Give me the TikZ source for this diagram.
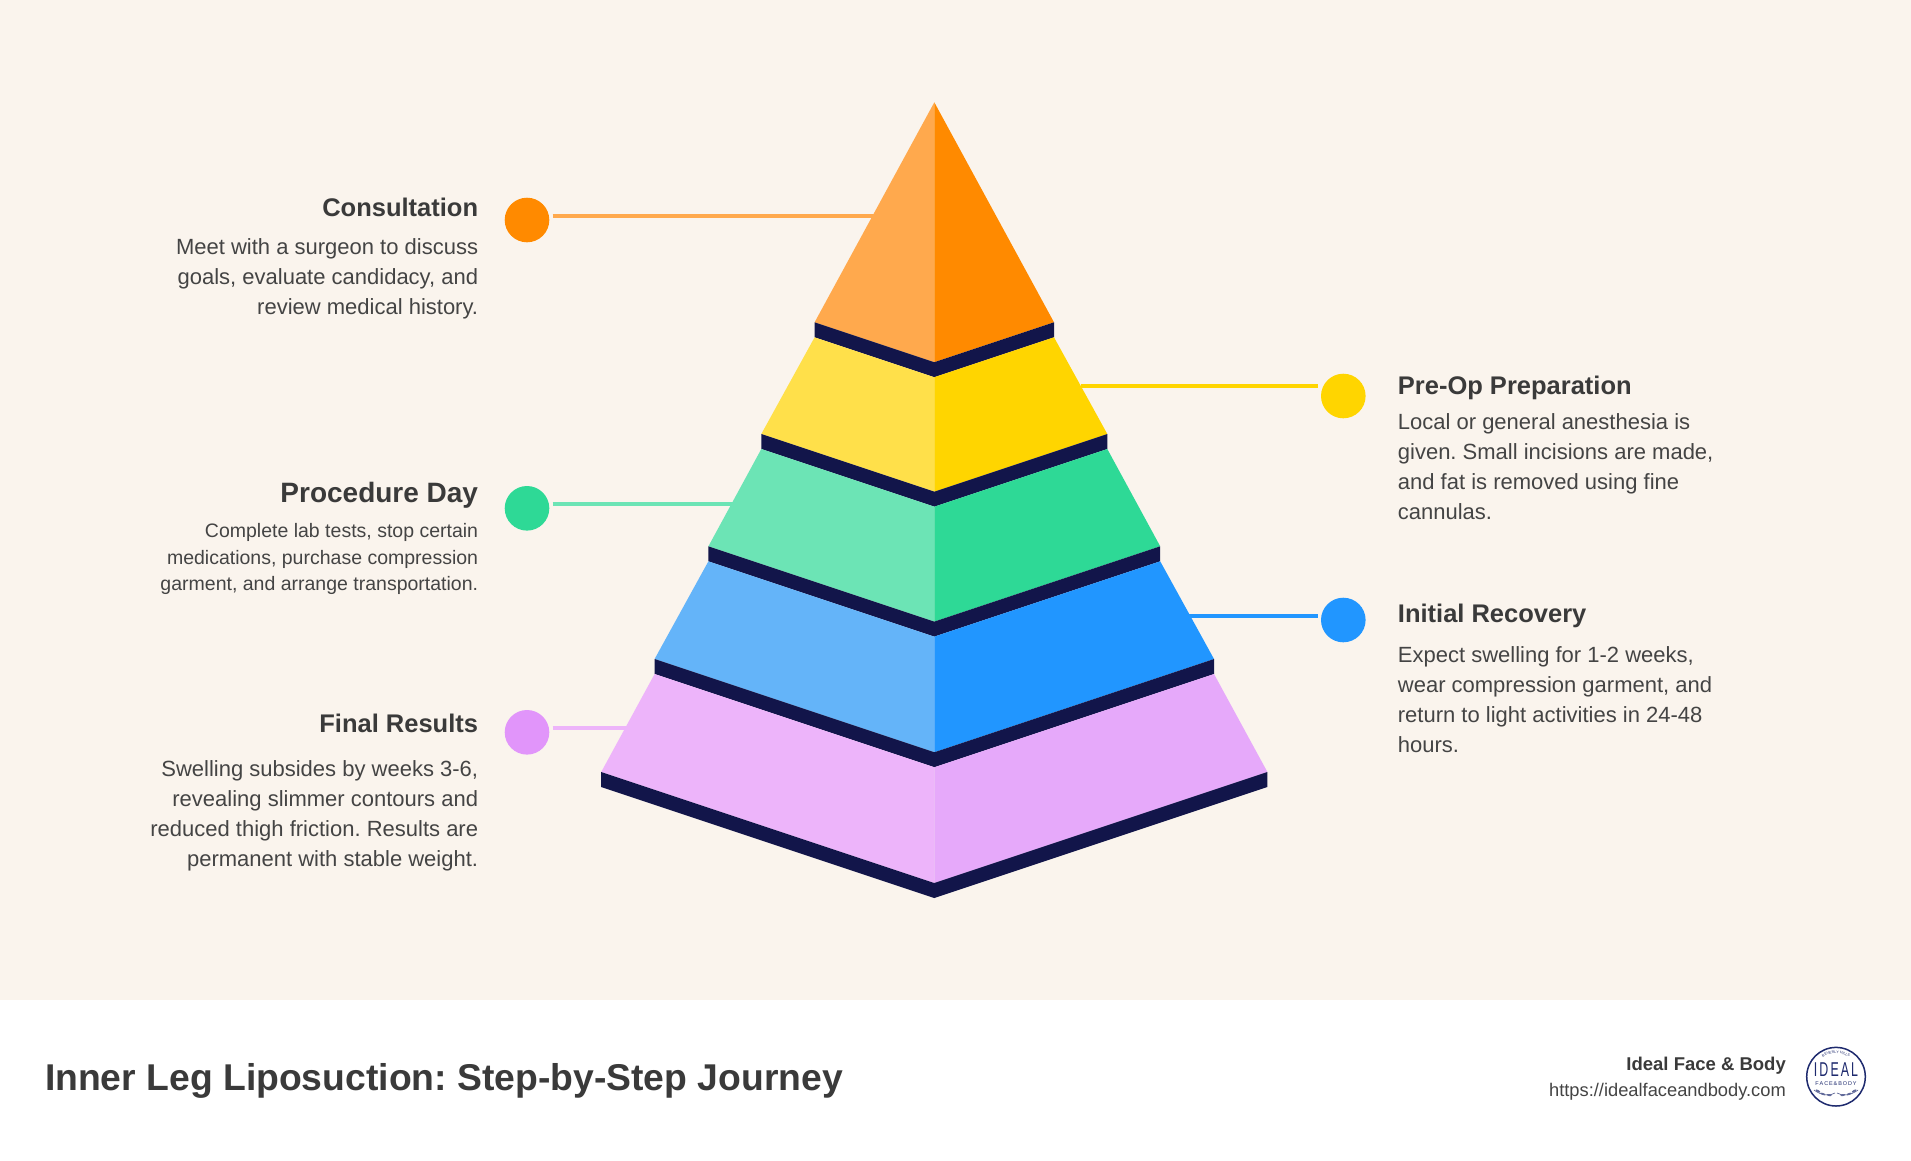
\documentclass[tikz,border=0pt]{standalone}
\usepackage{fontspec}
\setmainfont{Liberation Sans}
\usepackage{graphicx}
\usetikzlibrary{decorations.text}
\frenchspacing

\definecolor{bgcream}{HTML}{FAF4ED}
\definecolor{inkgray}{HTML}{3A3A3A}
\definecolor{descgray}{HTML}{444444}
\definecolor{bandnavy}{HTML}{12154A}
\definecolor{orangeL}{HTML}{FFA94D}
\definecolor{orangeR}{HTML}{FF8A00}
\definecolor{yellowL}{HTML}{FFE04A}
\definecolor{yellowR}{HTML}{FFD500}
\definecolor{greenL}{HTML}{6CE4B5}
\definecolor{greenR}{HTML}{2ED996}
\definecolor{blueL}{HTML}{64B4F9}
\definecolor{blueR}{HTML}{2196FF}
\definecolor{pinkL}{HTML}{EDB4FA}
\definecolor{pinkR}{HTML}{E6A9FA}
\definecolor{pinkdot}{HTML}{E195FA}
\definecolor{logonavy}{HTML}{1E2A6E}

% one layer of the pyramid: (top y:bottom y:top half width:bottom half width)[left][right]
\def\pyrlayer(#1:#2:#3:#4)[#5][#6]{%
  \fill[#5] (934.3-#3,#1) -- (934.3,#1+#3/3) -- (934.3,#2+#4/3) -- (934.3-#4,#2) -- cycle;
  \fill[#6] (934.3+#3,#1) -- (934.3,#1+#3/3) -- (934.3,#2+#4/3) -- (934.3+#4,#2) -- cycle;}
% dark band under a layer: (y:half width)
\def\pyrband(#1:#2){\fill[bandnavy] (934.3-#2,#1) -- (934.3,#1+#2/3) -- (934.3+#2,#1) -- (934.3+#2,#1+15) -- (934.3,#1+15+#2/3) -- (934.3-#2,#1+15) -- cycle;}

\tikzset{
  steptitle/.style={font=\bfseries\fontsize{25.5}{30}\selectfont, text=inkgray, inner sep=0pt},
  stepdesc/.style={font=\fontsize{22}{30}\selectfont, text=descgray, inner sep=0pt},
  stepdot/.style={circle, minimum size=44.6pt, inner sep=0pt},
  stepline/.style={line width=4pt}
}

\begin{document}
\begin{tikzpicture}[x=1pt,y=-1pt]
		%%%%% START %%%%%
		\useasboundingbox (0,0) rectangle (1911,1160);
		\fill[bgcream] (0,0) rectangle (1911,1000);
		\fill[white] (0,1000) rectangle (1911,1160);
		
		% pyramid
		\pyrlayer(102.3:322.3:0:119.7)[orangeL][orangeR]
		\pyrband(322.3:119.7)
		\pyrlayer(337.3:434:119.7:173)[yellowL][yellowR]
		\pyrband(434:173)
		\pyrlayer(449:546.3:173:225.9)[greenL][greenR]
		\pyrband(546.3:225.9)
		\pyrlayer(561.3:659:225.9:279.7)[blueL][blueR]
		\pyrband(659:279.7)
		\pyrlayer(674:772:279.7:333.1)[pinkL][pinkR]
		\pyrband(772:333.1)
		
		% left steps
		\node[stepdot, fill=orangeR] (consdot) at (527,220) {};
		\coordinate (consend) at (877,215.7);
		\draw[stepline, orangeL, shorten <=3pt] (consend -| consdot.east) -- (consend);
		\node[steptitle, anchor=base east] (constitle) at (478.3,216) {Consultation};
		\node[stepdesc, align=right, anchor=north east] (consdesc) at (478.3,233) {\strut Meet with a surgeon to discuss\\goals, evaluate candidacy, and\\review medical history.};
		
		\node[stepdot, fill=greenR] (procdot) at (527,508.3) {};
		\coordinate (procend) at (739,503.7);
		\draw[stepline, greenL, shorten <=3pt] (procend -| procdot.east) -- (procend);
		\node[steptitle, font=\bfseries\fontsize{28}{32}\selectfont, anchor=base east] (proctitle) at (478.3,502.7) {Procedure Day};
		\node[stepdesc, font=\fontsize{19.5}{26.7}\selectfont, align=right, anchor=north east] (procdesc) at (478.3,518.6) {\strut Complete lab tests, stop certain\\medications, purchase compression\\garment, and arrange transportation.};
		
		\node[stepdot, fill=pinkdot] (finaldot) at (527,732.3) {};
		\coordinate (finalend) at (630,727.7);
		\draw[stepline, pinkL, shorten <=3pt] (finalend -| finaldot.east) -- (finalend);
		\node[steptitle, anchor=base east] (finaltitle) at (478.3,732.3) {Final Results};
		\node[stepdesc, align=right, anchor=north east] (finaldesc) at (478.3,755.7) {\strut Swelling subsides by weeks 3-6,\\revealing slimmer contours and\\reduced thigh friction. Results are\\permanent with stable weight.};
		
		% right steps
		\node[stepdot, fill=yellowR] (prepdot) at (1343.3,396) {};
		\coordinate (prepstart) at (1081,385.7);
		\draw[stepline, yellowR, shorten >=3pt] (prepstart) -- (prepstart -| prepdot.west);
		\node[steptitle, anchor=base west] (preptitle) at (1397.7,394) {Pre-Op Preparation};
		\node[stepdesc, align=left, anchor=north west] (prepdesc) at (1397.7,408) {\strut Local or general anesthesia is\\given. Small incisions are made,\\and fat is removed using fine\\cannulas.};
		
		\node[stepdot, fill=blueR] (recdot) at (1343.3,620) {};
		\coordinate (recstart) at (1188,615.7);
		\draw[stepline, blueR, shorten >=3pt] (recstart) -- (recstart -| recdot.west);
		\node[steptitle, anchor=base west] (rectitle) at (1397.7,622.7) {Initial Recovery};
		\node[stepdesc, align=left, anchor=north west] (recdesc) at (1397.7,641.7) {\strut Expect swelling for 1-2 weeks,\\wear compression garment, and\\return to light activities in 24-48\\hours.};
		
		% footer
		\node[anchor=base west, inner sep=0pt, text=inkgray, font=\bfseries\fontsize{37.3}{40}\selectfont] (pagetitle) at (44.8,1090) {Inner Leg Liposuction: Step-by-Step Journey};
		\node[anchor=base east, inner sep=0pt, text=inkgray, font=\bfseries\fontsize{18.5}{22}\selectfont] (brandname) at (1786,1070) {Ideal Face \& Body};
		\node[anchor=base east, inner sep=0pt, text=descgray, font=\fontsize{18.3}{22}\selectfont] (brandurl) at (1786,1096) {https://idealfaceandbody.com};
		
		% logo
		\node[circle, draw=logonavy, line width=1.5pt, fill=white, minimum size=58.6pt, inner sep=0pt] (logo) at (1836,1076.7) {};
		\node[text=logonavy, inner sep=0pt, font=\fontsize{20}{20}\selectfont] (logoword) at (1836,1069.3) {\scalebox{0.62}[1]{I\,D\,E\,A\,L}};
		\node[text=logonavy, inner sep=0pt, font=\fontsize{5.5}{6}\selectfont] (logosub) at (1836,1083.3) {F\,A\,C\,E\,\&\,B\,O\,D\,Y};
		\path[decorate, decoration={text along path, text={|\fontsize{3.6}{4}\selectfont\color{logonavy}|BEVERLY HILLS}, text align=center}] (1812.5,1076.7) arc (180:360:23.5);
		\draw[logonavy!80, line width=0.6pt] (1814,1090) .. controls (1822,1096) and (1830,1096) .. (1835,1093);
		\draw[logonavy!80, line width=0.6pt] (1858,1090) .. controls (1850,1096) and (1842,1096) .. (1837,1093);
		\fill[logonavy!70, rotate around={-30:(1818,1091)}] (1818,1091) ellipse (2.6 and 1);
		\fill[logonavy!70, rotate around={-20:(1823,1094)}] (1823,1094) ellipse (2.6 and 1);
		\fill[logonavy!70, rotate around={-10:(1829,1095)}] (1829,1095) ellipse (2.6 and 1);
		\fill[logonavy!70, rotate around={30:(1854,1091)}] (1854,1091) ellipse (2.6 and 1);
		\fill[logonavy!70, rotate around={20:(1849,1094)}] (1849,1094) ellipse (2.6 and 1);
		\fill[logonavy!70, rotate around={10:(1843,1095)}] (1843,1095) ellipse (2.6 and 1);
		%%%%% END %%%%%
\end{tikzpicture}
\end{document}
